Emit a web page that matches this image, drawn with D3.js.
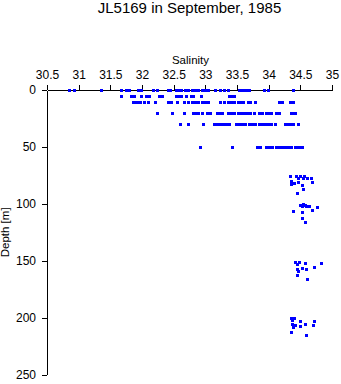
<!DOCTYPE html>
<html>
<head>
<meta charset="utf-8">
<script src="https://cdn.jsdelivr.net/npm/d3@7/dist/d3.min.js"></script>
<style>
  html, body { margin: 0; padding: 0; background: #fff; }
  svg { display: block; }
  text { font-family: "Liberation Sans", Arial, Helvetica, sans-serif; fill: #000; }
</style>
</head>
<body>
<svg id="chart" width="341" height="384"></svg>
<script>
// ---- Data ----
const title = "JL5169 in September, 1985";
const xLabel = "Salinity";
const yLabel = "Depth [m]";
const salTicks = [30.5, 31, 31.5, 32, 32.5, 33, 33.5, 34, 34.5, 35];
const salTickLabels = ["30.5", "31", "31.5", "32", "32.5", "33", "33.5", "34", "34.5", "35"];
const depthTicks = [0, 50, 100, 150, 200, 250];

// near-surface sampling levels (m) and salinities observed at each level
const levelDepths = [0, 5.3, 10.5, 20.3, 30.2, 50];
const sal0 = [30.84,30.93,31.35,31.67,31.75,31.80,31.94,31.99,32.18,32.24,32.41,32.44,32.54,32.58,32.62,32.68,32.72,32.79,32.84,32.89,32.94,32.99,33.04,33.16,33.23,33.29,33.36,33.53,33.56,33.60,33.64,33.69,33.93,33.99,34.39];
const sal5 = [31.67,31.83,31.88,31.99,32.06,32.11,32.27,32.31,32.54,32.59,32.62,32.70,32.77,32.81,32.93,33.37,33.41,33.45];
const sal10 = [31.85,31.90,31.94,31.97,32.03,32.10,32.21,32.41,32.45,32.56,32.67,32.72,32.79,32.84,32.89,32.95,33.00,33.05,33.23,33.29,33.36,33.41,33.46,33.51,33.54,33.60,33.68,33.71,33.79,34.17,34.21,34.34,34.38];
const sal20 = [32.24,32.47,32.66,32.80,32.85,32.89,32.95,33.02,33.07,33.18,33.23,33.27,33.36,33.41,33.46,33.51,33.56,33.61,33.66,33.71,33.77,33.85,33.89,33.95,34.00,34.03,34.11,34.17,34.35,34.40,34.42];
const sal30 = [32.60,32.72,32.97,33.13,33.18,33.23,33.28,33.33,33.38,33.48,33.53,33.58,33.63,33.69,33.74,33.79,33.84,33.89,33.94,33.99,34.03,34.10,34.26,34.30,34.36,34.39,34.47];
const sal50 = [32.92,33.42,33.82,33.86,33.96,34.01,34.06,34.11,34.16,34.21,34.26,34.31,34.36,34.41,34.46,34.50,34.52];

// deeper samples: salinity / depth pairs
const deepSal = [34.33,34.43,34.49,34.56,34.46,34.54,34.61,34.67,34.35,34.35,34.40,34.46,34.69,34.53,34.54,34.44,
                 34.55,34.50,34.57,34.59,34.64,34.53,34.77,34.39,34.53,34.69,34.52,34.57,
                 34.41,34.48,34.45,34.57,34.83,34.45,34.46,34.53,34.59,34.72,34.45,34.60,
                 34.35,34.40,34.37,34.49,34.72,34.37,34.42,34.38,34.49,34.58,34.70,34.36,34.59];
const deepDepth = [75.3,75.3,75.8,75.3,77.5,77.1,77.1,77.5,79.7,82.4,81.5,81.0,81.2,83.5,87.0,90.5,
                   100.0,100.8,100.8,102.1,102.1,101.7,102.6,106.4,107.0,105.5,112.3,115.5,
                   151.0,151.0,152.7,152.1,152.1,157.3,158.8,156.5,157.3,155.6,162.6,165.6,
                   200.6,200.6,202.4,202.5,202.5,205.9,206.3,208.0,207.2,205.7,206.3,212.7,215.4];

// ---- Build point table ----
const levelSal = [sal0, sal5, sal10, sal20, sal30, sal50];
const points = [];
levelSal.forEach((arr, i) => arr.forEach(s => points.push({ s, d: levelDepths[i] })));
deepSal.forEach((s, i) => points.push({ s, d: deepDepth[i] }));

// ---- Layout ----
const svg = d3.select("#chart");
const mLeft = 47, mRight = 332, mTop = 90, mBottom = 374.7;

const x = d3.scaleLinear().domain([30.5, 35]).range([mLeft, mRight]);
const y = d3.scaleLinear().domain([0, 250]).range([mTop, mBottom]);

// Title
svg.append("text")
  .attr("x", (mLeft + mRight) / 2).attr("y", 12.7)
  .attr("text-anchor", "middle")
  .style("font-size", "15px")
  .text(title);

// X label
svg.append("text")
  .attr("x", (mLeft + mRight) / 2 + 1).attr("y", 63.5)
  .attr("text-anchor", "middle")
  .style("font-size", "11.5px")
  .text(xLabel);

// Y label
svg.append("text")
  .attr("transform", `translate(9,${(mTop + mBottom) / 2}) rotate(-90)`)
  .attr("text-anchor", "middle")
  .style("font-size", "11.5px")
  .text(yLabel);

// Axes
const xAxis = d3.axisTop(x)
  .tickValues(salTicks)
  .tickFormat((d, i) => salTickLabels[i])
  .tickSize(5).tickSizeOuter(0).tickPadding(6);
const gx = svg.append("g")
  .attr("transform", `translate(0,${mTop})`)
  .call(xAxis);

const yAxis = d3.axisLeft(y)
  .tickValues(depthTicks)
  .tickFormat(d3.format("d"))
  .tickSize(5).tickSizeOuter(0).tickPadding(6);
const gy = svg.append("g")
  .attr("transform", `translate(${mLeft},0)`)
  .call(yAxis);

[gx, gy].forEach(g => {
  g.selectAll("text").style("font-size", "12px")
    .style("font-family", '"Liberation Sans", Arial, sans-serif');
  g.selectAll("path,line").attr("stroke", "#000").attr("shape-rendering", "crispEdges");
});

// Points
svg.append("g")
  .selectAll("rect")
  .data(points)
  .join("rect")
  .attr("x", p => Math.round(x(p.s)) - 1)
  .attr("y", p => Math.round(y(p.d)) - 1)
  .attr("width", 3)
  .attr("height", 3)
  .attr("fill", "#0000ff")
  .attr("shape-rendering", "crispEdges");
</script>
</body>
</html>
